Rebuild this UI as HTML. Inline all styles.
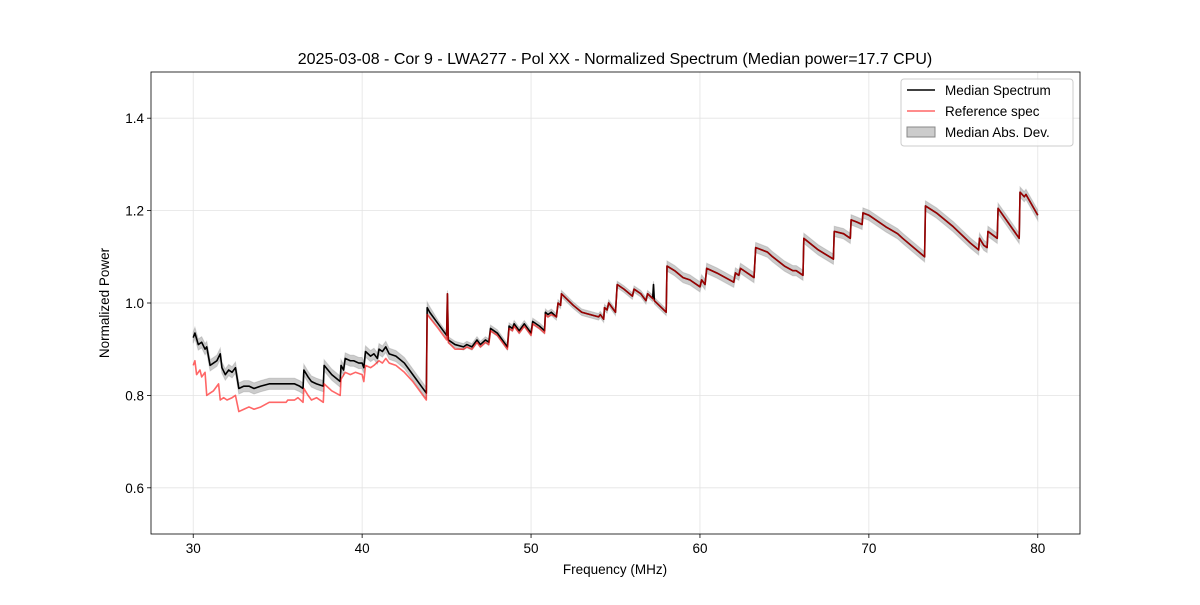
<!DOCTYPE html>
<html><head><meta charset="utf-8"><style>
body{margin:0;background:#fff;}
svg{font-family:"Liberation Sans","DejaVu Sans",sans-serif;}
</style></head><body>
<svg id="chart" width="1200" height="600" xmlns="http://www.w3.org/2000/svg">
<rect width="1200" height="600" fill="#fff"/>
<text x="615" y="64" font-size="16" text-anchor="middle">2025-03-08 - Cor 9 - LWA277 - Pol XX - Normalized Spectrum (Median power=17.7 CPU)</text>
<g id="grid"></g><g id="series"></g><g id="axes"></g>
<text x="615" y="574" font-size="13.5" text-anchor="middle">Frequency (MHz)</text>
<text transform="translate(109,303) rotate(-90)" font-size="13.5" text-anchor="middle">Normalized Power</text>
<g>
<rect x="901" y="79" width="172" height="67" rx="3" fill="#fff" fill-opacity="0.8" stroke="#ccc"/>
<line x1="907" y1="90" x2="935" y2="90" stroke="#000" stroke-width="1.5"/>
<text x="945" y="95" font-size="13.5">Median Spectrum</text>
<line x1="907" y1="111" x2="935" y2="111" stroke="#ff0000" stroke-opacity="0.6" stroke-width="1.5"/>
<text x="945" y="116" font-size="13.5">Reference spec</text>
<rect x="907" y="127" width="28" height="10" fill="#999" fill-opacity="0.5" stroke="#888"/>
<text x="945" y="137" font-size="13.5">Median Abs. Dev.</text>
</g>
</svg>
<script>
const xTicks=[30,40,50,60,70,80];
const yTicks=[0.6,0.8,1.0,1.2,1.4];
const medF=[30,30.1,30.3,30.5,30.7,30.8,31,31.2,31.4,31.6,31.7,31.9,32.1,32.3,32.5,32.7,33,33.3,33.6,34,34.5,35,35.5,36,36.3,36.5,36.55,36.8,37,37.3,37.7,37.75,38.2,38.7,38.75,38.9,39,39.3,39.5,39.8,40,40.1,40.2,40.5,40.7,40.9,41,41.2,41.4,41.6,42,42.5,43,43.5,43.8,43.85,44,44.5,45,45.05,45.1,45.5,46,46.2,46.5,46.8,47,47.3,47.5,47.6,48,48.5,48.6,48.7,48.9,49,49.3,49.6,49.9,50,50.1,50.5,50.8,50.85,51,51.2,51.5,51.6,51.75,51.8,52.5,53,54,54.1,54.3,54.35,54.5,54.6,55,55.1,55.5,56,56.1,56.5,56.8,56.9,57.2,57.25,57.3,58,58.05,58.5,59,59.4,60,60.1,60.3,60.4,61,62,62.1,62.3,62.4,63.2,63.3,64,64.3,65,65.5,65.7,66.1,66.15,67,67.9,67.95,68.5,68.9,68.95,69.3,69.6,69.65,70,71,71.7,72,73.3,73.35,74,75,76,76.5,76.55,76.8,77,77.05,77.6,77.65,78.9,78.95,79.2,79.3,80];
const medV=[0.925,0.935,0.91,0.915,0.9,0.905,0.865,0.87,0.875,0.89,0.86,0.845,0.855,0.85,0.86,0.815,0.82,0.82,0.815,0.82,0.825,0.825,0.825,0.825,0.82,0.815,0.855,0.84,0.83,0.825,0.82,0.865,0.845,0.83,0.865,0.855,0.88,0.875,0.875,0.87,0.87,0.86,0.895,0.885,0.89,0.88,0.9,0.895,0.905,0.89,0.885,0.87,0.845,0.82,0.805,0.99,0.98,0.955,0.93,1.02,0.92,0.91,0.905,0.91,0.905,0.92,0.91,0.92,0.915,0.945,0.935,0.91,0.905,0.95,0.945,0.955,0.94,0.955,0.94,0.935,0.96,0.95,0.94,0.98,0.975,0.98,0.97,1.0,0.995,1.02,0.995,0.98,0.97,0.975,0.965,0.99,0.985,1.0,0.98,1.04,1.03,1.015,1.03,1.02,1.005,1.02,1.01,1.04,1.005,0.98,1.08,1.07,1.055,1.05,1.035,1.05,1.04,1.075,1.065,1.045,1.065,1.06,1.075,1.055,1.12,1.11,1.1,1.08,1.07,1.07,1.06,1.14,1.115,1.095,1.155,1.15,1.14,1.18,1.175,1.17,1.195,1.19,1.165,1.15,1.14,1.1,1.21,1.195,1.165,1.13,1.115,1.14,1.125,1.12,1.155,1.14,1.205,1.14,1.24,1.23,1.235,1.19];
const refF=[30,30.1,30.2,30.4,30.5,30.7,30.8,31,31.2,31.5,31.6,31.8,32,32.3,32.5,32.7,33,33.3,33.6,34,34.5,35,35.5,35.6,36,36.2,36.5,36.55,36.8,37,37.3,37.7,37.75,38.2,38.7,38.75,39,39.3,39.6,40,40.1,40.2,40.5,40.7,41,41.2,41.4,41.6,42,42.5,43,43.5,43.8,43.85,44.5,45,45.05,45.1,45.5,46,46.2,46.5,46.8,47,47.3,47.5,47.6,48,48.5,48.6,48.7,48.9,49,49.3,49.6,49.9,50,50.1,50.5,50.8,50.85,51,51.2,51.5,51.6,51.75,51.8,52.5,53,54,54.1,54.3,54.35,54.5,54.6,55,55.1,55.5,56,56.1,56.5,56.8,56.9,57.2,57.3,58,58.05,58.5,59,59.4,60,60.1,60.3,60.4,61,62,62.1,62.3,62.4,63.2,63.3,64,64.3,65,65.5,65.7,66.1,66.15,67,67.9,67.95,68.5,68.9,68.95,69.3,69.6,69.65,70,71,71.7,72,73.3,73.35,74,75,76,76.5,76.55,76.8,77,77.05,77.6,77.65,78.9,78.95,79.2,79.3,80];
const refV=[0.865,0.875,0.845,0.855,0.84,0.85,0.8,0.805,0.81,0.825,0.79,0.795,0.79,0.795,0.8,0.765,0.77,0.775,0.77,0.775,0.785,0.785,0.785,0.79,0.79,0.795,0.785,0.815,0.8,0.79,0.795,0.785,0.825,0.81,0.8,0.835,0.85,0.845,0.85,0.845,0.83,0.865,0.86,0.865,0.875,0.87,0.88,0.87,0.865,0.85,0.83,0.805,0.79,0.975,0.945,0.92,1.02,0.915,0.9,0.9,0.905,0.9,0.915,0.905,0.915,0.91,0.94,0.93,0.905,0.9,0.945,0.94,0.95,0.935,0.95,0.935,0.93,0.955,0.945,0.935,0.975,0.97,0.975,0.97,1.0,0.995,1.02,0.995,0.98,0.97,0.975,0.965,0.99,0.985,1.0,0.98,1.04,1.03,1.015,1.03,1.02,1.005,1.02,1.01,1.005,0.98,1.08,1.07,1.055,1.05,1.035,1.05,1.04,1.075,1.065,1.045,1.065,1.06,1.075,1.055,1.12,1.11,1.1,1.08,1.07,1.07,1.06,1.14,1.115,1.095,1.155,1.15,1.14,1.18,1.175,1.17,1.195,1.19,1.165,1.15,1.14,1.1,1.21,1.195,1.165,1.13,1.115,1.14,1.125,1.12,1.155,1.14,1.205,1.14,1.24,1.23,1.235,1.19];
const madEdges=[30,44,58,80];
const madWidths=[0.012,0.007,0.011];

const X0=151,X1=1080,Y0=72,Y1=534,xMin=27.5,xMax=82.5,yMin=0.5,yMax=1.5;
const xs=f=>X0+(f-xMin)/(xMax-xMin)*(X1-X0);
const ys=v=>Y1-(v-yMin)/(yMax-yMin)*(Y1-Y0);
const NS="http://www.w3.org/2000/svg";
function mk(parent,tag,attrs){const e=document.createElementNS(NS,tag);for(const k in attrs)e.setAttribute(k,attrs[k]);parent.appendChild(e);return e;}
const grid=document.getElementById('grid'),axes=document.getElementById('axes'),ser=document.getElementById('series');
xTicks.forEach(t=>{
  const gl=mk(grid,'line',{x1:xs(t),x2:xs(t),y1:Y0,y2:Y1,stroke:'#e3e3e3','stroke-width':0.8});
  
  
  mk(axes,'line',{x1:xs(t),x2:xs(t),y1:Y1,y2:Y1+4,stroke:'#000','stroke-width':0.8});
  const tx=mk(axes,'text',{x:xs(t),y:Y1+19,'font-size':13.5,'text-anchor':'middle'});tx.textContent=t;
  
  
});
yTicks.forEach(t=>{
  const gl=mk(grid,'line',{x1:X0,x2:X1,y1:ys(t),y2:ys(t),stroke:'#e3e3e3','stroke-width':0.8});
  
  
  mk(axes,'line',{x1:X0-4,x2:X0,y1:ys(t),y2:ys(t),stroke:'#000','stroke-width':0.8});
  const tx=mk(axes,'text',{x:X0-7,y:ys(t)+5,'font-size':13.5,'text-anchor':'end'});tx.textContent=t.toFixed(1);
  
  
});
const frame=mk(axes,'rect',{x:X0,y:Y0,width:X1-X0,height:Y1-Y0,fill:'none',stroke:'#000','stroke-width':0.8});


function mad(f){for(let i=0;i<madWidths.length;i++){if(f<=madEdges[i+1])return madWidths[i];}return madWidths[madWidths.length-1];}
let up=[],dn=[];
medF.forEach((f,i)=>{up.push(xs(f)+','+ys(medV[i]+mad(f)));dn.unshift(xs(f)+','+ys(medV[i]-mad(f)));});
const band=mk(ser,'polygon',{points:up.concat(dn).join(' '),fill:'#999','fill-opacity':0.5,stroke:'#999','stroke-opacity':0.4});


const med=mk(ser,'polyline',{points:medF.map((f,i)=>xs(f)+','+ys(medV[i])).join(' '),fill:'none',stroke:'#000','stroke-width':1.6,'stroke-linejoin':'round'});


const ref=mk(ser,'polyline',{points:refF.map((f,i)=>xs(f)+','+ys(refV[i])).join(' '),fill:'none',stroke:'#ff0000','stroke-opacity':0.6,'stroke-width':1.6,'stroke-linejoin':'round'});


</script>
</body></html>
